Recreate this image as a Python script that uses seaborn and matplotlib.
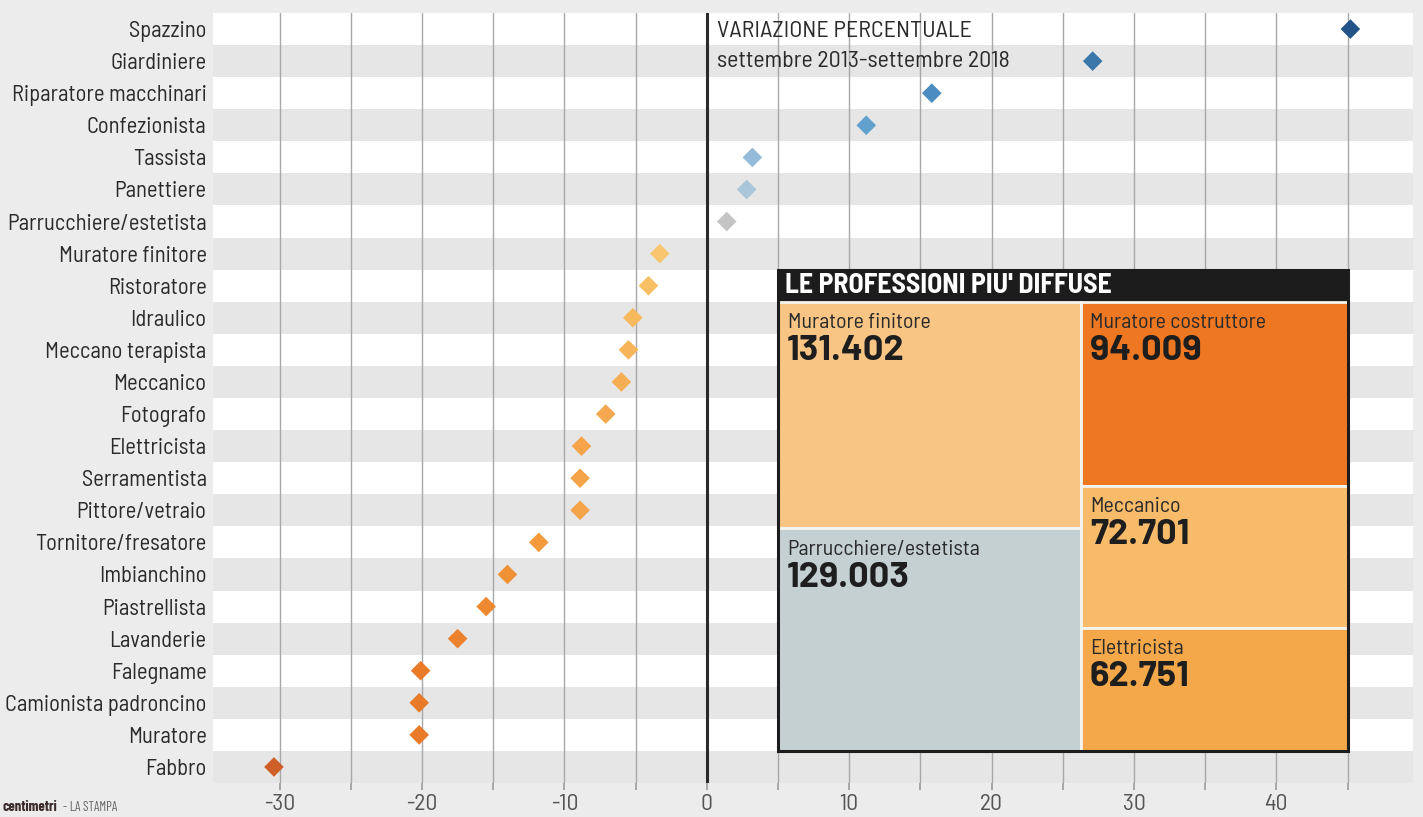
import matplotlib
matplotlib.use("Agg")
import matplotlib.pyplot as plt
from matplotlib.patches import Rectangle
import seaborn as sns
import pandas as pd

# ---------------- data ----------------
categories = [
    "Spazzino", "Giardiniere", "Riparatore macchinari", "Confezionista", "Tassista",
    "Panettiere", "Parrucchiere/estetista", "Muratore finitore", "Ristoratore",
    "Idraulico", "Meccano terapista", "Meccanico", "Fotografo", "Elettricista",
    "Serramentista", "Pittore/vetraio", "Tornitore/fresatore", "Imbianchino",
    "Piastrellista", "Lavanderie", "Falegname", "Camionista padroncino",
    "Muratore", "Fabbro",
]
variation = [
    45.2, 27.1, 15.8, 11.2, 3.2,
    2.8, 1.4, -3.3, -4.1,
    -5.2, -5.5, -6.0, -7.1, -8.8,
    -8.9, -8.9, -11.8, -14.0,
    -15.5, -17.5, -20.1, -20.2,
    -20.2, -30.4,
]
x_ticks = [-30, -20, -10, 0, 10, 20, 30, 40]

tm_names = ["Muratore finitore", "Parrucchiere/estetista",
            "Muratore costruttore", "Meccanico", "Elettricista"]
tm_values = [131402, 129003, 94009, 72701, 62751]
tm_labels = ["131.402", "129.003", "94.009", "72.701", "62.751"]

title_lines = ["VARIAZIONE PERCENTUALE", "settembre 2013-settembre 2018"]
tm_title = "LE PROFESSIONI PIU' DIFFUSE"

# ---------------- styles ----------------
marker_colors = [
    "#22548a", "#3a78ab", "#4b8cc1", "#62a0cd", "#94bcda",
    "#a9c6da", "#c4c4c4", "#f8c66e", "#f8bf64",
    "#f7b95d", "#f7b459", "#f6ae54", "#f5a84f", "#f5a449",
    "#f5a449", "#f5a449", "#f39a3d", "#f19136",
    "#ef8931", "#ec822d", "#e97a28", "#e97a28",
    "#e97a28", "#cf5f29",
]
tm_colors = ["#f8c584", "#c4d0d2", "#ee7722", "#f8bb6a", "#f5a84a"]
tm_groups = [2, 3]  # tiles per column

COND = ["Barlow Condensed", "DejaVu Sans"]
SEMI = ["Barlow Semi Condensed", "DejaVu Sans"]
WIDE = ["Barlow", "DejaVu Sans"]

sns.set_theme(style="white")
plt.rcParams["font.family"] = SEMI

fig = plt.figure(figsize=(14.23, 8.17), dpi=100, facecolor="#ececec")
ax = fig.add_axes([0.150, 0.0416, 0.843, 0.9425])
ax.set_facecolor("white")

df = pd.DataFrame({"categoria": categories, "variazione": variation})

for i in range(len(categories)):
    if i % 2 == 1:
        ax.axhspan(i - 0.5, i + 0.5, color="#e6e6e6", lw=0, zorder=0)

for v in range(-30, 50, 5):
    if v == 0:
        ax.axvline(0, color="#2a2a2a", lw=2.2, zorder=1)
    else:
        ax.axvline(v, color="#a8a8a8", lw=1.0, zorder=1)

sns.scatterplot(data=df, x="variazione", y="categoria", hue="categoria",
                palette=marker_colors, marker="D", s=100, linewidth=0,
                legend=False, ax=ax, zorder=3)

ax.set_xlim(-34.65, 49.6)
ax.set_ylim(len(categories) - 0.5, -0.5)
ax.set_xlabel("")
ax.set_ylabel("")
for s in ax.spines.values():
    s.set_visible(False)

ax.set_xticks(x_ticks)
ax.set_xticks(list(range(-30, 50, 5)), minor=True)
ax.set_xticklabels([str(t) for t in x_ticks])
ax.tick_params(axis="x", which="both", bottom=True, length=5, width=1.2,
               color="#9a9a9a", pad=3, labelsize=17, labelcolor="#555555")
ax.tick_params(axis="y", left=False, length=0, pad=5, labelsize=16.2, labelcolor="#2a2a2a")

ax.text(0.75, 0.07, title_lines[0], fontsize=17.3, color="#2a2a2a", va="center", ha="left", zorder=4)
ax.text(0.75, 1.02, title_lines[1], fontsize=17.2, color="#2a2a2a", va="center", ha="left", zorder=4)

# ---------------- treemap ----------------
X0, X1 = 5.0, 45.0
HEAD_TOP, Y0, Y1 = 7.5, 8.5, 22.5

def column_layout(values, groups, x0, x1, y0, y1):
    total = sum(values)
    rects = []
    xc, idx = x0, 0
    for g in groups:
        gv = values[idx:idx + g]
        w = (x1 - x0) * sum(gv) / total
        yc = y0
        for v in gv:
            h = (y1 - y0) * v / sum(gv)
            rects.append((xc, yc, w, h))
            yc += h
        xc += w
        idx += g
    return rects

ax.add_patch(Rectangle((X0, HEAD_TOP), X1 - X0, Y0 - HEAD_TOP, facecolor="#1c1c1c",
                       edgecolor="none", zorder=5))
ax.annotate(tm_title, xy=(X0, (HEAD_TOP + Y0) / 2), xytext=(5, 0),
            textcoords="offset points", va="center", ha="left", fontsize=20,
            fontweight="bold", color="white", zorder=7)

rects = column_layout(tm_values, tm_groups, X0, X1, Y0, Y1)
for (x, y, w, h), name, lab, col in zip(rects, tm_names, tm_labels, tm_colors):
    ax.add_patch(Rectangle((x, y), w, h, facecolor=col, edgecolor="#f4f4f0",
                           lw=2, zorder=5))
    ax.annotate(name, xy=(x, y), xytext=(7, -15), textcoords="offset points",
                va="center", ha="left", fontsize=15.8, color="#2a2a2a", zorder=7)
    ax.annotate(lab, xy=(x, y), xytext=(6.5, -35.5), textcoords="offset points",
                va="center", ha="left", fontsize=26, fontweight="bold",
                family=WIDE, color="#1e1e1e", zorder=7)

ax.add_patch(Rectangle((X0, HEAD_TOP), X1 - X0, Y1 - HEAD_TOP, facecolor="none",
                       edgecolor="#1c1c1c", lw=2.2, zorder=6))

fig.text(0.002, 0.004, "centimetri", fontsize=10.5, fontweight="bold", color="#3a2a2a",
         family=COND, ha="left", va="bottom")
fig.text(0.044, 0.004, "- LA STAMPA", fontsize=9.5, color="#666666", family=COND,
         ha="left", va="bottom")

fig.savefig("out.png", dpi=100, facecolor=fig.get_facecolor())
